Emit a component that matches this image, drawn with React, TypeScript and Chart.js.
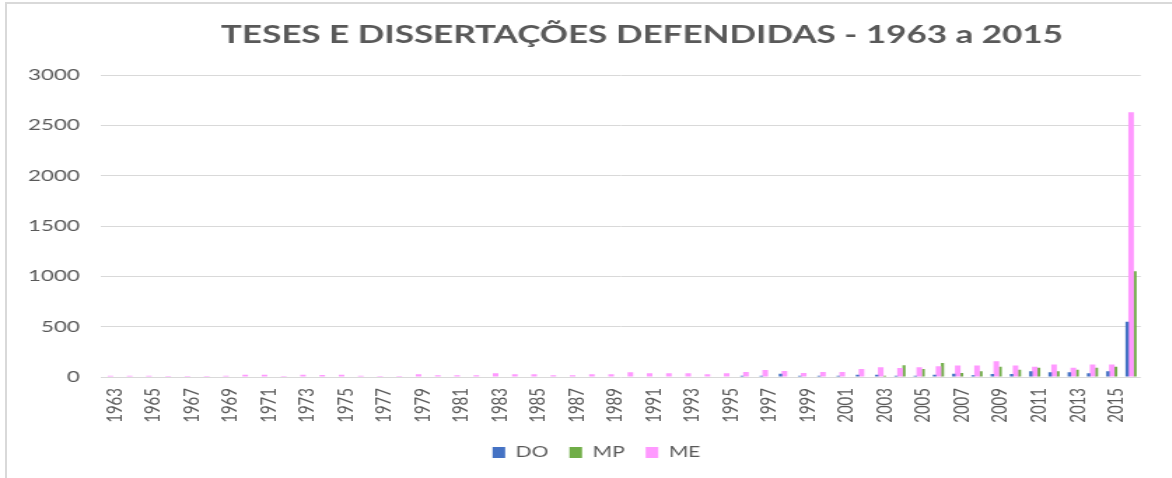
import React, { useEffect, useRef } from 'react';
import { Chart, registerables } from 'chart.js';

Chart.register(...registerables);

const TITLE = 'TESES E DISSERTAÇÕES DEFENDIDAS - 1963 a 2015';

const categories = [
  '1963', '1964', '1965', '1966', '1967', '1968', '1969', '1970', '1971', '1972',
  '1973', '1974', '1975', '1976', '1977', '1978', '1979', '1980', '1981', '1982',
  '1983', '1984', '1985', '1986', '1987', '1988', '1989', '1990', '1991', '1992',
  '1993', '1994', '1995', '1996', '1997', '1998', '1999', '2000', '2001', '2002',
  '2003', '2004', '2005', '2006', '2007', '2008', '2009', '2010', '2011', '2012',
  '2013', '2014', '2015', 'Total',
];

const doValues = [
  0, 0, 0, 0, 0, 0, 0, 0, 0, 0,
  0, 0, 0, 0, 0, 0, 0, 0, 0, 0,
  0, 0, 0, 0, 0, 0, 0, 0, 0, 0,
  0, 0, 0, 12, 12, 33, 12, 12, 12, 22,
  22, 12, 12, 22, 33, 17, 30, 30, 57, 47,
  47, 37, 57, 550,
];

const mpValues = [
  0, 0, 0, 0, 0, 0, 0, 0, 0, 0,
  0, 0, 0, 0, 0, 0, 0, 0, 0, 0,
  0, 0, 0, 0, 0, 0, 0, 0, 0, 0,
  0, 0, 0, 0, 0, 0, 0, 0, 0, 0,
  12, 117, 80, 140, 40, 57, 103, 73, 93, 57,
  73, 93, 103, 1050,
];

const meValues = [
  12, 12, 12, 10, 10, 10, 12, 22, 22, 10,
  22, 20, 22, 12, 10, 10, 27, 17, 17, 17,
  37, 27, 27, 17, 17, 27, 27, 47, 37, 37,
  37, 27, 37, 50, 70, 60, 40, 50, 50, 80,
  97, 90, 97, 107, 115, 113, 157, 113, 103, 123,
  93, 123, 123, 2630,
];

const yTicks = [0, 500, 1000, 1500, 2000, 2500, 3000];
const legendOrder = ['DO', 'MP', 'ME'];

const S = 1.4;
const FULL_W = 1172;
const H = 478;
const W = FULL_W / S;
const FONT = 'Lato, "Open Sans", sans-serif';
const TEXT = '#595959';
const LEGEND_SHIFT = 17;

const titlePlugin = {
  id: 'stretchedTitle',
  afterLayout(chart: any) {
    if (chart.legend) {
      chart.legend.left += LEGEND_SHIFT;
      chart.legend.right += LEGEND_SHIFT;
    }
  },
  afterDraw(chart: any) {
    const { ctx } = chart;
    ctx.save();
    ctx.font = `bold 25px ${FONT}`;
    ctx.fillStyle = TEXT;
    ctx.textAlign = 'center';
    ctx.textBaseline = 'alphabetic';
    ctx.fillText(TITLE, 642 / S, 43);
    ctx.restore();
  },
};

export default function App() {
  const ref = useRef<HTMLCanvasElement | null>(null);

  useEffect(() => {
    if (!ref.current) return;
    const chart = new Chart(ref.current, {
      type: 'bar',
      data: {
        labels: categories,
        datasets: [
          { label: 'DO', data: doValues, backgroundColor: '#4472C4', barPercentage: 0.85, categoryPercentage: 0.62 },
          { label: 'ME', data: meValues, backgroundColor: '#FF99FF', barPercentage: 1.4, categoryPercentage: 0.62 },
          { label: 'MP', data: mpValues, backgroundColor: '#70AD47', barPercentage: 0.75, categoryPercentage: 0.62 },
        ],
      },
      options: {
        animation: false,
        responsive: true,
        maintainAspectRatio: false,
        layout: { padding: { left: 0, right: 19, top: 75, bottom: 8 } },
        plugins: {
          title: { display: false },
          tooltip: { enabled: false },
          legend: {
            display: true,
            position: 'bottom',
            labels: {
              font: { family: FONT, size: 15 },
              color: TEXT,
              boxWidth: 9,
              boxHeight: 11,
              padding: 15,
              sort: (a: any, b: any) => legendOrder.indexOf(a.text) - legendOrder.indexOf(b.text),
            },
          },
        },
        scales: {
          x: {
            offset: true,
            grid: { display: false, drawTicks: false },
            border: { display: false },
            ticks: {
              autoSkip: false,
              minRotation: 90,
              maxRotation: 90,
              padding: 11,
              labelOffset: 3,
              color: TEXT,
              font: { family: FONT, size: 15 },
              callback: (_v: any, i: number) => (i % 2 === 0 ? categories[i] : ''),
            },
            afterFit: (scale: any) => { scale.height = 53; },
          },
          y: {
            min: 0,
            max: 3000,
            grid: { color: '#D9D9D9', lineWidth: 1, drawTicks: false },
            border: { display: false },
            afterBuildTicks: (scale: any) => { scale.ticks = yTicks.map((v) => ({ value: v })); },
            ticks: {
              padding: 15,
              color: TEXT,
              font: { family: FONT, size: 16 },
              callback: (v: any) => String(v),
            },
            afterFit: (scale: any) => { scale.width = 72; },
          },
        },
      },
      plugins: [titlePlugin],
    });
    return () => chart.destroy();
  }, []);

  return (
    <div style={{ position: 'fixed', left: 0, top: 0, width: FULL_W, height: H, overflow: 'hidden', background: '#fff' }}>
      <div
        style={{
          position: 'absolute', left: 5, top: 2, width: FULL_W + 50, height: H + 50,
          borderLeft: '2px solid #D9D9D9', borderTop: '2px solid #D9D9D9', boxSizing: 'border-box',
        }}
      />
      <div style={{ position: 'absolute', left: 0, top: 0, width: W, height: H, transform: `scaleX(${S})`, transformOrigin: '0 0' }}>
        <canvas ref={ref} />
      </div>
    </div>
  );
}
